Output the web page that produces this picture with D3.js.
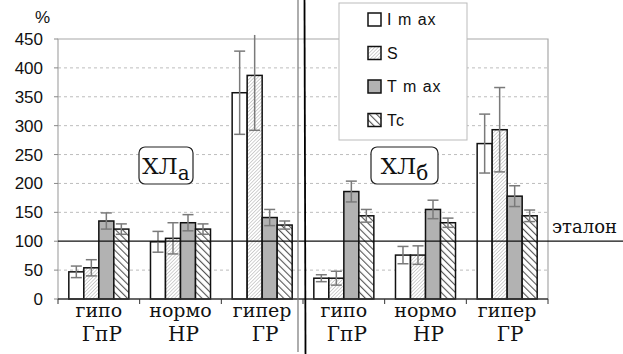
<!DOCTYPE html>
<html>
<head>
<meta charset="utf-8">
<script src="https://cdn.jsdelivr.net/npm/d3@7"></script>
<style>
  body { margin: 0; background: #fff; }
  svg { display: block; }
  .tick-label { font-family: "Liberation Sans", Arial, sans-serif; font-size: 17px; fill: #111; }
  .legend-text { font-family: "Liberation Sans", Arial, sans-serif; font-size: 16px; letter-spacing: 1px; fill: #111; }
  .serif { font-family: "DejaVu Serif", "Liberation Serif", serif; fill: #111; }
</style>
</head>
<body>
<svg id="chart"></svg>
<script>
// categories
const groups = ['гипо', 'нормо', 'гипер', 'гипо', 'нормо', 'гипер']
const groupCodes = ['ГпР', 'НР', 'ГР', 'ГпР', 'НР', 'ГР']
const seriesNames = ['I m ax', 'S', 'T m ax', 'Tc']

// series values (%) and error bars, ХЛа then ХЛб
const imax = [47, 99, 357, 36, 76, 269]
const imaxErr = [10, 18, 72, 6, 15, 51]
const sVals = [54, 105, 387, 36, 76, 293]
const sErr = [14, 27, 95, 12, 16, 73]
const tmax = [135, 132, 141, 186, 155, 178]
const tmaxErr = [14, 14, 14, 18, 16, 18]
const tc = [121, 121, 128, 144, 132, 144]
const tcErr = [9, 9, 7, 11, 8, 10]

const yTicks = [0, 50, 100, 150, 200, 250, 300, 350, 400, 450]
const etalon = 100
const panelLabels = [{ main: 'ХЛ', sub: 'а' }, { main: 'ХЛ', sub: 'б' }]

const WIDTH = 623
const HEIGHT = 354
const plot = { left: 58, right: 548, top: 39, bottom: 299 }

const series = [
    { name: seriesNames[0], values: imax, errors: imaxErr, fill: '#fff' },
    { name: seriesNames[1], values: sVals, errors: sErr, fill: 'url(#hatch-s)' },
    { name: seriesNames[2], values: tmax, errors: tmaxErr, fill: '#b2b2b2' },
    { name: seriesNames[3], values: tc, errors: tcErr, fill: 'url(#hatch-tc)' },
]

const svg = d3.select('#chart')
    .attr('width', WIDTH)
    .attr('height', HEIGHT)
    .attr('viewBox', [0, 0, WIDTH, HEIGHT].join(' '))

// patterns
const defs = svg.append('defs')
defs.append('pattern')
    .attr('id', 'hatch-s')
    .attr('patternUnits', 'userSpaceOnUse')
    .attr('width', 2.5).attr('height', 2.5)
    .attr('patternTransform', 'rotate(45)')
    .call(p => {
        p.append('rect').attr('width', 2.5).attr('height', 2.5).attr('fill', '#fff')
        p.append('line').attr('x1', 0).attr('y1', 0).attr('x2', 0).attr('y2', 2.5)
            .attr('stroke', '#a5a5a5').attr('stroke-width', 1)
    })
defs.append('pattern')
    .attr('id', 'hatch-tc')
    .attr('patternUnits', 'userSpaceOnUse')
    .attr('width', 5).attr('height', 5)
    .attr('patternTransform', 'rotate(-45)')
    .call(p => {
        p.append('rect').attr('width', 5).attr('height', 5).attr('fill', '#fff')
        p.append('line').attr('x1', 0).attr('y1', 0).attr('x2', 0).attr('y2', 5)
            .attr('stroke', '#555').attr('stroke-width', 2.2)
    })

const x0 = d3.scaleBand()
    .domain(d3.range(groups.length))
    .range([plot.left, plot.right])
    .paddingInner(0.265)
    .paddingOuter(0.1325)

const x1 = d3.scaleBand()
    .domain(d3.range(series.length))
    .range([0, x0.bandwidth()])

const y = d3.scaleLinear()
    .domain([0, 450])
    .range([plot.bottom, plot.top])

const step = x0.step()

// grid
svg.append('g')
    .selectAll('line')
    .data(yTicks.filter(t => t !== 0 && t !== 450 && t !== etalon))
    .join('line')
    .attr('x1', plot.left).attr('x2', plot.right)
    .attr('y1', d => y(d)).attr('y2', d => y(d))
    .attr('stroke', '#bdbdbd')
    .attr('stroke-dasharray', '3,3')

// plot frame (top, right, left)
svg.append('path')
    .attr('d', `M${plot.left},${plot.bottom}V${plot.top}H${plot.right}V${plot.bottom}`)
    .attr('fill', 'none')
    .attr('stroke', '#a8a8a8')
    .attr('stroke-width', 1.2)

// y axis
const yAxis = svg.append('g')
yAxis.selectAll('line')
    .data(yTicks)
    .join('line')
    .attr('x1', plot.left - 4).attr('x2', plot.left)
    .attr('y1', d => y(d)).attr('y2', d => y(d))
    .attr('stroke', '#888')
yAxis.selectAll('text')
    .data(yTicks)
    .join('text')
    .attr('class', 'tick-label')
    .attr('x', 43)
    .attr('y', d => y(d) + 6)
    .attr('text-anchor', 'end')
    .text(d => d)

svg.append('text')
    .attr('class', 'tick-label')
    .attr('x', 35).attr('y', 23)
    .text('%')

// bars
const groupG = svg.append('g')
    .selectAll('g')
    .data(groups.map((g, i) => i))
    .join('g')
    .attr('transform', i => `translate(${x0(i)},0)`)

groupG.selectAll('rect')
    .data(i => series.map((s, k) => ({ k, v: s.values[i], fill: s.fill })))
    .join('rect')
    .attr('x', d => x1(d.k))
    .attr('width', x1.bandwidth())
    .attr('y', d => y(d.v))
    .attr('height', d => y(0) - y(d.v))
    .attr('fill', d => d.fill)
    .attr('stroke', '#111')
    .attr('stroke-width', 1.5)

// error bars
const yTop = y(457)
const errG = groupG.selectAll('g.err')
    .data(i => series.map((s, k) => ({ k, v: s.values[i], e: s.errors[i] })))
    .join('g')
    .attr('class', 'err')
    .attr('transform', d => `translate(${x1(d.k) + x1.bandwidth() / 2},0)`)
    .attr('stroke', '#7a7a7a')
    .attr('stroke-width', 1.5)

errG.append('line')
    .attr('y1', d => y(d.v - d.e))
    .attr('y2', d => Math.max(y(d.v + d.e), yTop))
errG.filter(d => y(d.v + d.e) >= yTop)
    .append('line')
    .attr('x1', -5.5).attr('x2', 5.5)
    .attr('y1', d => y(d.v + d.e)).attr('y2', d => y(d.v + d.e))
errG.append('line')
    .attr('x1', -5.5).attr('x2', 5.5)
    .attr('y1', d => y(d.v - d.e)).attr('y2', d => y(d.v - d.e))

// x axis
svg.append('line')
    .attr('x1', plot.left).attr('x2', plot.right)
    .attr('y1', plot.bottom).attr('y2', plot.bottom)
    .attr('stroke', '#333')
    .attr('stroke-width', 1.3)

const boundaries = d3.range(groups.length + 1)
    .map(i => plot.left + x0.paddingOuter() * step - (x0.paddingInner() * step) / 2 + i * step)
svg.append('g')
    .selectAll('line')
    .data(boundaries)
    .join('line')
    .attr('x1', d => d).attr('x2', d => d)
    .attr('y1', plot.bottom).attr('y2', plot.bottom + 5)
    .attr('stroke', '#333')

const labelsG = svg.append('g')
    .selectAll('g')
    .data(groups.map((g, i) => i))
    .join('g')
    .attr('transform', i => `translate(${x0(i) + x0.bandwidth() / 2},0)`)
    .attr('class', 'serif')
    .attr('text-anchor', 'middle')
    .style('font-size', '19px')
labelsG.append('text')
    .attr('y', 317)
    .text(i => groups[i])
labelsG.append('text')
    .attr('x', 3)
    .attr('y', 341)
    .style('font-size', '20px')
    .text(i => groupCodes[i])

// etalon line
svg.append('line')
    .attr('x1', plot.left).attr('x2', WIDTH)
    .attr('y1', y(etalon)).attr('y2', y(etalon))
    .attr('stroke', '#111')
    .attr('stroke-width', 1.3)

svg.append('text')
    .attr('class', 'serif')
    .attr('x', 552).attr('y', 233)
    .style('font-size', '18px')
    .text('эталон')

// panel separators
svg.append('line')
    .attr('x1', 298).attr('x2', 298)
    .attr('y1', 0).attr('y2', HEIGHT - 2)
    .attr('stroke', '#777')
    .attr('stroke-width', 1.2)
svg.append('line')
    .attr('x1', 304.5).attr('x2', 305.5)
    .attr('y1', 0).attr('y2', HEIGHT)
    .attr('stroke', '#000')
    .attr('stroke-width', 1.8)

// panel labels ХЛа / ХЛб
const panelPos = [{ x: 139, w: 54 }, { x: 371, w: 67 }]
panelLabels.forEach((lab, i) => {
    const g = svg.append('g').attr('transform', `translate(${panelPos[i].x},147)`)
    g.append('rect')
        .attr('width', panelPos[i].w).attr('height', 37)
        .attr('rx', 6)
        .attr('fill', '#fff')
        .attr('stroke', '#222')
        .attr('stroke-width', 1.2)
    const t = g.append('text')
        .attr('class', 'serif')
        .attr('x', panelPos[i].w / 2).attr('y', 27)
        .attr('text-anchor', 'middle')
        .style('font-size', '23px')
    t.append('tspan').text(lab.main)
    t.append('tspan').attr('dy', 6).style('font-size', '20px').text(lab.sub)
})

// legend
const legend = svg.append('g').attr('transform', 'translate(339,3)')
legend.append('rect')
    .attr('width', 128).attr('height', 137)
    .attr('fill', '#fff')
    .attr('stroke', '#bbb')
const items = legend.selectAll('g')
    .data(series)
    .join('g')
    .attr('transform', (d, i) => `translate(29,${10 + i * 33.5})`)
items.append('rect')
    .attr('width', 13).attr('height', 13)
    .attr('fill', d => d.fill)
    .attr('stroke', '#111')
    .attr('stroke-width', 1.5)
items.append('text')
    .attr('class', 'legend-text')
    .attr('x', 19).attr('y', 12)
    .text(d => d.name)
</script>
</body>
</html>
